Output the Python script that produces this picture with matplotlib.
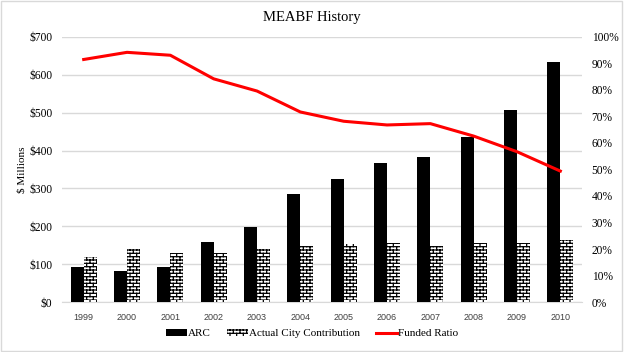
import matplotlib
matplotlib.use("Agg")
import matplotlib.pyplot as plt
import matplotlib.hatch as mhatch
from matplotlib.path import Path
import numpy as np
from matplotlib.ticker import FuncFormatter, MultipleLocator

years = ["1999", "2000", "2001", "2002", "2003", "2004", "2005",
         "2006", "2007", "2008", "2009", "2010"]
arc = [92, 83, 92, 158, 197, 284, 324, 366, 384, 436, 506, 634]
actual_city = [118, 139, 130, 130, 139, 148, 153, 157, 147, 156, 156, 163]
funded_ratio = [91.5, 94.2, 93.1, 84.2, 79.6, 71.7, 68.2, 66.8, 67.3, 62.6, 56.7, 49.4]


class BrickHatch(mhatch.HatchPatternBase):
    """Brick pattern bound to the '*' hatch character."""
    def __init__(self, hatch, density):
        k = hatch.count('*')
        self.rows = 2 * ((k * density) // 2)
        self.cols = self.rows // 2
        if self.rows:
            self.num_vertices = 2 * (self.rows + self.rows * self.cols)
        else:
            self.num_vertices = 0

    def set_vertices_and_codes(self, vertices, codes):
        n, m = self.rows, self.cols
        idx = 0
        for i in range(n):
            y0 = i / n
            y1 = (i + 1) / n
            vertices[idx] = (0.0, y0); vertices[idx + 1] = (1.0, y0)
            codes[idx] = Path.MOVETO; codes[idx + 1] = Path.LINETO
            idx += 2
            off = 0.5 * (i % 2)
            for j in range(m):
                xx = (j + off) / m
                vertices[idx] = (xx, y0); vertices[idx + 1] = (xx, y1)
                codes[idx] = Path.MOVETO; codes[idx + 1] = Path.LINETO
                idx += 2


mhatch._hatch_types = [t for t in mhatch._hatch_types if t is not mhatch.Stars] + [BrickHatch]

serif = "Liberation Serif"
plt.rcParams["hatch.linewidth"] = 0.9

fig = plt.figure(figsize=(6.24, 3.52), dpi=100)
ax = fig.add_axes([0.0994, 0.142, 0.8333, 0.753])
ax2 = ax.twinx()

x = np.arange(len(years))
w = 0.3
b1 = ax.bar(x - w / 2, arc, w, color="black", label="ARC", zorder=3)
b2 = ax.bar(x + w / 2, actual_city, w, facecolor="white", edgecolor="black",
            hatch="*****", linewidth=0, label="Actual City Contribution", zorder=3)
l1, = ax2.plot(x, funded_ratio, color="#ff0000", lw=2.2, label="Funded Ratio")

ax.set_xlim(-0.5, len(years) - 0.5)
ax.set_ylim(0, 700)
ax.yaxis.set_major_locator(MultipleLocator(100))
ax.yaxis.set_major_formatter(FuncFormatter(lambda v, p: f"${int(v)}"))
ax2.set_ylim(0, 100)
ax2.yaxis.set_major_locator(MultipleLocator(10))
ax2.yaxis.set_major_formatter(FuncFormatter(lambda v, p: f"{int(v)}%"))

ax.grid(axis="y", color="#d9d9d9", lw=1, zorder=0)
ax.set_axisbelow(True)
for a in (ax, ax2):
    for s in a.spines.values():
        s.set_visible(False)
    a.tick_params(length=0)
ax.spines["bottom"].set_visible(True)
ax.spines["bottom"].set_color("#d9d9d9")

ax.set_xticks(x)
ax.set_xticklabels(years, fontsize=6.5, family="Liberation Sans", color="#404040")
ax.tick_params(axis="x", pad=8)
for lab in ax.get_yticklabels():
    lab.set_family(serif); lab.set_fontsize(8.3)
for lab in ax2.get_yticklabels():
    lab.set_family(serif); lab.set_fontsize(8.3)
ax.tick_params(axis="y", pad=7)
ax2.tick_params(axis="y", pad=7)

ax.set_ylabel("$ Millions", family=serif, fontsize=8, labelpad=2)
fig.suptitle("MEABF History", family=serif, fontsize=10.5, y=0.97)

fig.legend([b1, b2, l1], ["ARC", "Actual City Contribution", "Funded Ratio"],
           loc="lower center", bbox_to_anchor=(0.5, 0.01), ncol=3, frameon=False,
           prop={"family": serif, "size": 8}, handlelength=1.9,
           handletextpad=0.1, columnspacing=1.4, handleheight=0.6)

fig.patches.append(plt.Rectangle((0.002, 0.003), 0.995, 0.993, transform=fig.transFigure,
                                 fill=False, edgecolor="#d9d9d9", lw=1))

fig.savefig("out.png", dpi=100, facecolor="white")
